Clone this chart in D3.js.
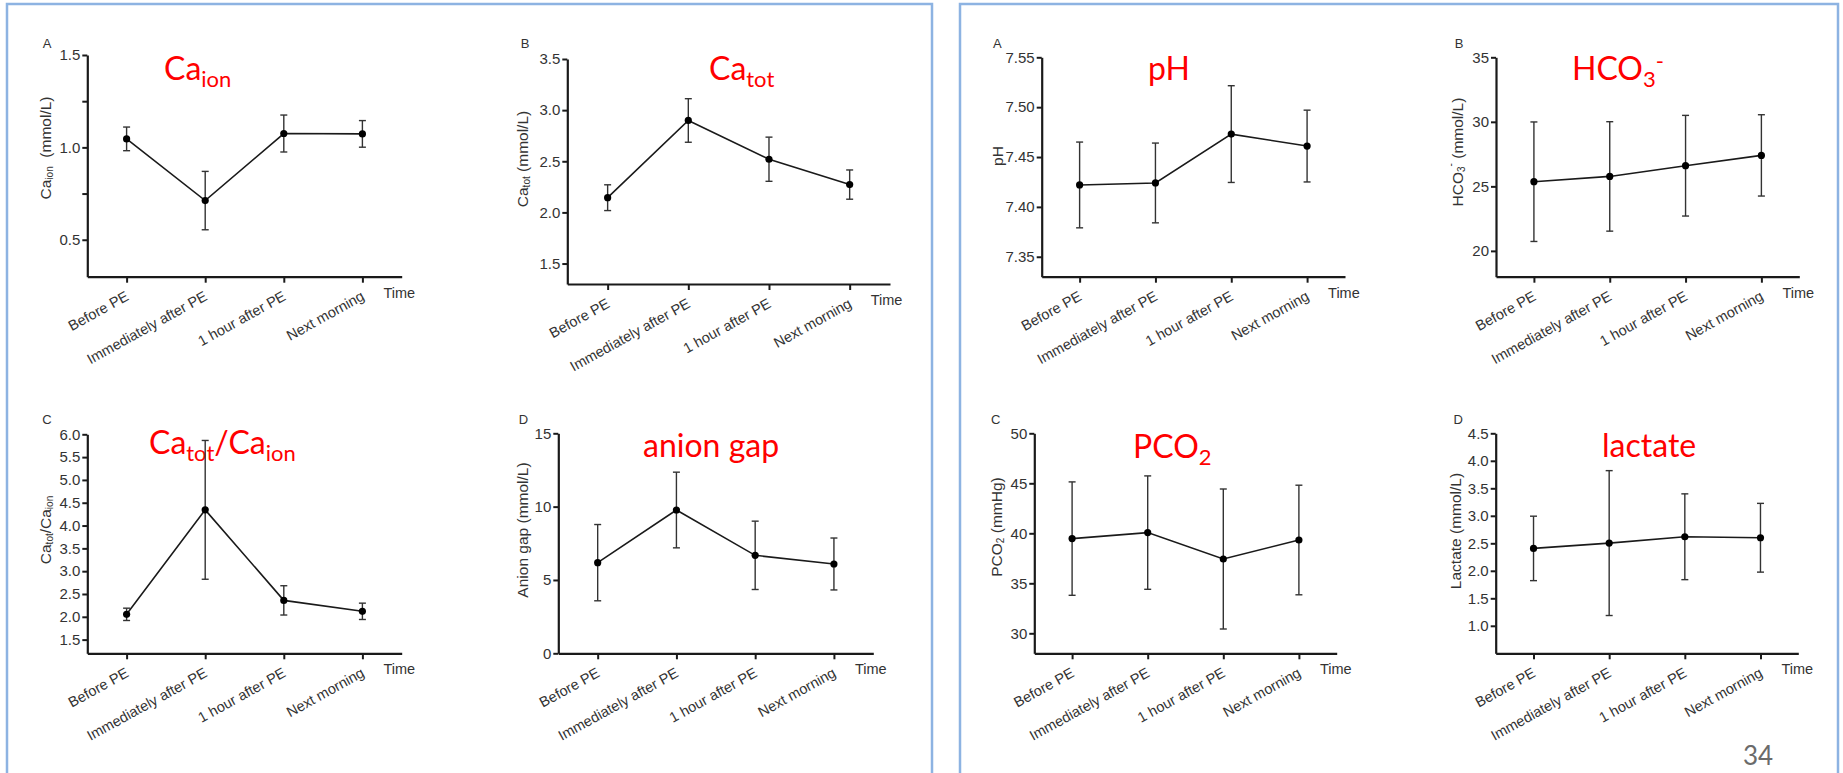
<!doctype html>
<html>
<head>
<script src="https://d3js.org/d3.v7.min.js"></script>
<style>
  body { margin: 0; background: #fff; }
  svg { display: block; }
  .axis text { font-family: "Liberation Sans", Arial, sans-serif; font-size: 15px; fill: #333; }
  .axis.xax text { font-size: 14.5px; }
  .axis path.domain { stroke: #1a1a1a; stroke-width: 2.2px; }
  .axis line { stroke: #1a1a1a; stroke-width: 2px; }
  .lbl { font-family: "Liberation Sans", Arial, sans-serif; fill: #333; }
  .title { font-family: Lato, "Open Sans", sans-serif; fill: #ff0000; }
</style>
</head>
<body>
<svg id="chart" width="1843" height="773"></svg>
<script>
// ---- data ----
const times = ["Before PE", "Immediately after PE", "1 hour after PE", "Next morning"];

const caIonMean = [1.046, 0.712, 1.075, 1.073];
const caIonSd   = [0.064, 0.158, 0.100, 0.072];
const caIonTicks = [0.5, 1.0, 1.5];
const caIonMinor = [0.75, 1.25];

const caTotMean = [2.144, 2.899, 2.520, 2.272];
const caTotSd   = [0.126, 0.213, 0.216, 0.143];
const caTotTicks = [1.5, 2.0, 2.5, 3.0, 3.5];

const ratioMean = [2.054, 4.344, 2.360, 2.120];
const ratioSd   = [0.135, 1.521, 0.321, 0.179];
const ratioTicks = [1.5, 2.0, 2.5, 3.0, 3.5, 4.0, 4.5, 5.0, 5.5, 6.0];

const gapMean = [6.18, 9.77, 6.68, 6.09];
const gapSd   = [2.60, 2.58, 2.33, 1.77];
const gapTicks = [0, 5, 10, 15];

const phMean = [7.422, 7.424, 7.473, 7.461];
const phSd   = [0.043, 0.040, 0.0485, 0.036];
const phTicks = [7.35, 7.40, 7.45, 7.50, 7.55];

const hco3Mean = [25.36, 25.77, 26.60, 27.40];
const hco3Sd   = [4.63, 4.24, 3.90, 3.15];
const hco3Ticks = [20, 25, 30, 35];

const pco2Mean = [39.47, 40.07, 37.43, 39.33];
const pco2Sd   = [5.67, 5.67, 7.00, 5.48];
const pco2Ticks = [30, 35, 40, 45, 50];

const lacMean = [2.407, 2.504, 2.619, 2.601];
const lacSd   = [0.586, 1.317, 0.780, 0.625];
const lacTicks = [1.0, 1.5, 2.0, 2.5, 3.0, 3.5, 4.0, 4.5];

// ---- panel layout ----
const panels = [
  { letter: "A", lx: 47, ly: 43, x0: 87.3, x1: 401.7, yTop: 55, yBot: 276.7, domain: [0.3, 1.5],
    ticks: caIonTicks, minor: caIonMinor, fmt: ".1f", mean: caIonMean, sd: caIonSd,
    ylab: [["Ca"], ["ion", "sub"], ["  (mmol/L)"]], ylx: 45, lly: 148,
    title: [["Ca"], ["ion", "sub"]], tx: 164, ty: 80 },
  { letter: "B", lx: 525, ly: 43, x0: 567.3, x1: 890, yTop: 59, yBot: 284, domain: [1.3, 3.5],
    ticks: caTotTicks, fmt: ".1f", mean: caTotMean, sd: caTotSd,
    ylab: [["Ca"], ["tot", "sub"], [" (mmol/L)"]], ylx: 521.7, lly: 159,
    title: [["Ca"], ["tot", "sub"]], tx: 709, ty: 80 },
  { letter: "C", lx: 47, ly: 419, x0: 87.3, x1: 401.7, yTop: 434.3, yBot: 653.3, domain: [1.2, 6.0],
    ticks: ratioTicks, fmt: ".1f", mean: ratioMean, sd: ratioSd,
    ylab: [["Ca"], ["tot", "sub"], ["/Ca"], ["ion", "sub"]], ylx: 45, lly: 530,
    title: [["Ca"], ["tot", "sub"], ["/Ca"], ["ion", "sub"]], tx: 149, ty: 454 },
  { letter: "D", lx: 523.5, ly: 419, x0: 558.3, x1: 873.3, yTop: 433.3, yBot: 653.3, domain: [0, 15],
    ticks: gapTicks, fmt: "d", mean: gapMean, sd: gapSd,
    ylab: [["Anion gap (mmol/L)"]], ylx: 521.7, lly: 530,
    title: [["anion gap"]], tx: 643, ty: 457 },
  { letter: "A", lx: 997.3, ly: 43, x0: 1041.7, x1: 1345, yTop: 57.3, yBot: 276.7, domain: [7.33, 7.55],
    ticks: phTicks, fmt: ".2f", mean: phMean, sd: phSd,
    ylab: [["pH"]], ylx: 997.3, lly: 156,
    title: [["pH"]], tx: 1148, ty: 80 },
  { letter: "B", lx: 1459, ly: 43, x0: 1496, x1: 1799.3, yTop: 57.3, yBot: 276.7, domain: [18, 35],
    ticks: hco3Ticks, fmt: "d", mean: hco3Mean, sd: hco3Sd,
    ylab: [["HCO"], ["3", "sub"], ["-", "sup"], [" (mmol/L)"]], ylx: 1456.7, lly: 152,
    title: [["HCO"], ["3", "sub"], ["-", "sup"]], tx: 1572, ty: 80 },
  { letter: "C", lx: 995.7, ly: 419, x0: 1034.3, x1: 1336.7, yTop: 433.3, yBot: 653.3, domain: [28, 50],
    ticks: pco2Ticks, fmt: "d", mean: pco2Mean, sd: pco2Sd,
    ylab: [["PCO"], ["2", "sub"], [" (mmHg)"]], ylx: 996, lly: 527,
    title: [["PCO"], ["2", "sub"]], tx: 1133, ty: 458 },
  { letter: "D", lx: 1458.3, ly: 419, x0: 1495.7, x1: 1798.3, yTop: 433.3, yBot: 653.3, domain: [0.5, 4.5],
    ticks: lacTicks, fmt: ".1f", mean: lacMean, sd: lacSd,
    ylab: [["Lactate (mmol/L)"]], ylx: 1455, lly: 531,
    title: [["lactate"]], tx: 1602, ty: 457 }
];

const svg = d3.select("#chart");
svg.append("rect").attr("width", 1843).attr("height", 773).attr("fill", "#fff");

// slide frames
svg.append("rect").attr("x", 7).attr("y", 4).attr("width", 925).attr("height", 820)
  .attr("fill", "none").attr("stroke", "#8db3e2").attr("stroke-width", 2.5);
svg.append("rect").attr("x", 960).attr("y", 4).attr("width", 878).attr("height", 820)
  .attr("fill", "none").attr("stroke", "#8db3e2").attr("stroke-width", 2.5);

// rich text helper: segments of [text, kind]
function richText(sel, segs, size, subSize, subShift) {
  let state = 0;
  segs.forEach(s => {
    const kind = s[1] || "norm";
    let target = kind === "sub" ? subShift : kind === "sup" ? -subShift * 1.6 : 0;
    sel.append("tspan").text(s[0]).attr("dy", target - state)
      .style("font-size", (kind === "norm" ? size : subSize) + "px");
    state = target;
  });
}

panels.forEach(p => {
  const g = svg.append("g");
  const x = d3.scalePoint().domain(times).range([p.x0, p.x1]).padding(0.5);
  const y = d3.scaleLinear().domain(p.domain).range([p.yBot, p.yTop]);

  // y axis
  g.append("g").attr("class", "axis").attr("transform", `translate(${p.x0},0)`)
    .call(d3.axisLeft(y).tickValues(p.ticks).tickSize(5).tickSizeOuter(0).tickPadding(2)
      .tickFormat(d3.format(p.fmt)));
  if (p.minor) {
    g.append("g").attr("class", "axis").attr("transform", `translate(${p.x0},0)`)
      .call(d3.axisLeft(y).tickValues(p.minor).tickSize(5).tickFormat(""))
      .select(".domain").remove();
  }

  // x axis
  const xa = g.append("g").attr("class", "axis xax").attr("transform", `translate(0,${p.yBot})`)
    .call(d3.axisBottom(x).tickSize(6).tickSizeOuter(0));
  xa.selectAll(".tick text")
    .attr("x", 0).attr("y", 0).attr("dy", 0)
    .attr("text-anchor", "end")
    .attr("transform", "translate(2.5,22.5) rotate(-29)");

  g.append("text").attr("class", "lbl")
    .attr("x", x(times[times.length - 1]) + 21).attr("y", p.yBot + 21)
    .style("font-size", "14.5px").text("Time");

  // panel letter
  g.append("text").attr("class", "lbl").attr("x", p.lx).attr("y", p.ly)
    .attr("text-anchor", "middle").attr("dominant-baseline", "central")
    .style("font-size", "13px").text(p.letter);

  // y label
  const yl = g.append("text").attr("class", "lbl")
    .attr("transform", `translate(${p.ylx},${p.lly}) rotate(-90)`)
    .attr("text-anchor", "middle").attr("dominant-baseline", "central")
    .style("white-space", "pre");
  richText(yl, p.ylab, 15.5, 10, 4);

  // red title
  const tt = g.append("text").attr("class", "title").attr("x", p.tx).attr("y", p.ty);
  richText(tt, p.title, 32, 22, 7);

  // connecting line
  const pts = times.map((t, i) => [x(t), y(p.mean[i])]);
  g.append("path").attr("d", d3.line()(pts))
    .attr("fill", "none").attr("stroke", "#1a1a1a").attr("stroke-width", 1.6);

  // error bars
  const eb = g.selectAll(".eb").data(times).enter().append("g").attr("class", "eb");
  eb.append("line")
    .attr("x1", d => x(d)).attr("x2", d => x(d))
    .attr("y1", (d, i) => y(p.mean[i] - p.sd[i])).attr("y2", (d, i) => y(p.mean[i] + p.sd[i]))
    .attr("stroke", "#333").attr("stroke-width", 1.4);
  [1, -1].forEach(sgn => {
    eb.append("line")
      .attr("x1", d => x(d) - 3.5).attr("x2", d => x(d) + 3.5)
      .attr("y1", (d, i) => y(p.mean[i] + sgn * p.sd[i])).attr("y2", (d, i) => y(p.mean[i] + sgn * p.sd[i]))
      .attr("stroke", "#333").attr("stroke-width", 1.4);
  });

  // points
  g.selectAll(".pt").data(times).enter().append("circle")
    .attr("cx", d => x(d)).attr("cy", (d, i) => y(p.mean[i]))
    .attr("r", 3.6).attr("fill", "#000");
});

// slide page number
svg.append("text").attr("x", 1743).attr("y", 765)
  .style("font-family", "Lato, 'Open Sans', sans-serif").style("font-size", "26px")
  .attr("fill", "#6b6b6b").text("34");
</script>
</body>
</html>
